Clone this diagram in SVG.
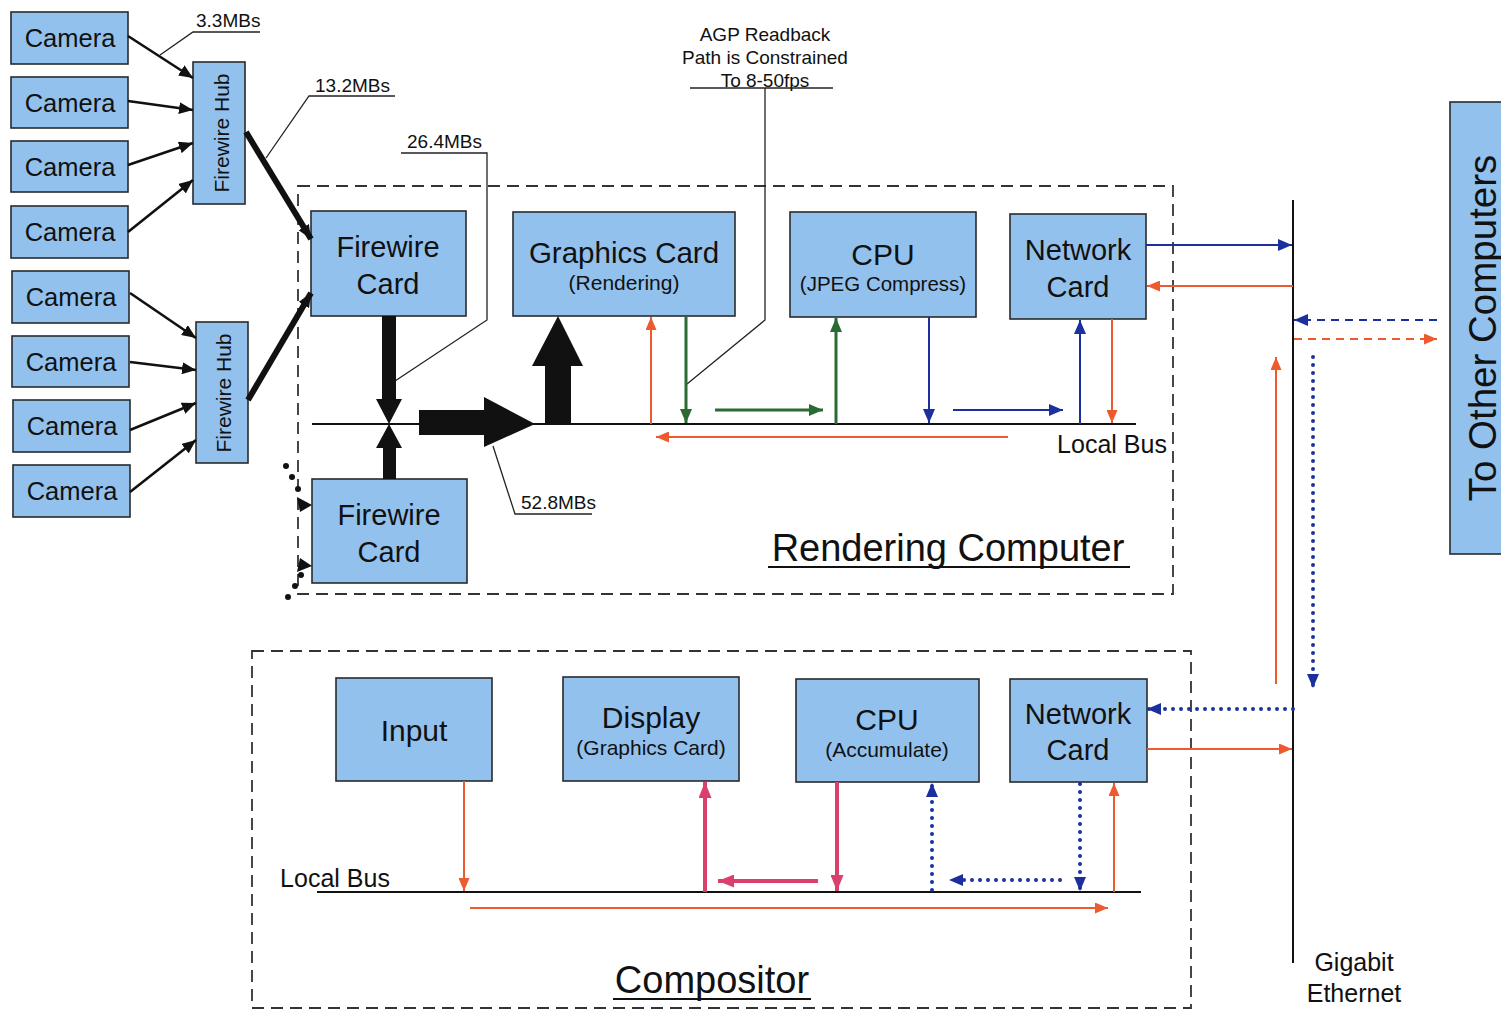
<svg xmlns="http://www.w3.org/2000/svg" width="1501" height="1010" viewBox="0 0 1501 1010">
<style>
.box{fill:#93c1ee;stroke:#2a2a2a;stroke-width:1.6}
.t{font-family:"Liberation Sans",Arial,sans-serif;fill:#111;text-anchor:middle}
.lbl{font-family:"Liberation Sans",Arial,sans-serif;fill:#111;font-size:19px}
.dash{fill:none;stroke:#333;stroke-width:1.8;stroke-dasharray:12 7}
.thin{fill:none;stroke:#222;stroke-width:1.3}
.bus{stroke:#111;stroke-width:2.2}
.or{stroke:#ee5a2f;stroke-width:2;fill:none}
.bl{stroke:#1b2f9e;stroke-width:2;fill:none}
.gr{stroke:#2b6b33;stroke-width:3;fill:none}
.rd{stroke:#d9416c;stroke-width:4;fill:none}
.dot{stroke:#1b2f9e;stroke-width:4;stroke-linecap:round;stroke-dasharray:0 8;fill:none}
</style>
<defs>
<marker id="aK" markerUnits="userSpaceOnUse" markerWidth="14" markerHeight="12" viewBox="0 0 14 12" refX="14" refY="6" orient="auto"><path d="M0,0 L14,6 L0,12 z" fill="#111"/></marker>
<marker id="aO" markerUnits="userSpaceOnUse" markerWidth="13" markerHeight="11" viewBox="0 0 13 11" refX="13" refY="5.5" orient="auto"><path d="M0,0 L13,5.5 L0,11 z" fill="#ee5a2f"/></marker>
<marker id="aB" markerUnits="userSpaceOnUse" markerWidth="14" markerHeight="12" viewBox="0 0 14 12" refX="14" refY="6" orient="auto"><path d="M0,0 L14,6 L0,12 z" fill="#1b2f9e"/></marker>
<marker id="aG" markerUnits="userSpaceOnUse" markerWidth="14" markerHeight="12" viewBox="0 0 14 12" refX="14" refY="6" orient="auto"><path d="M0,0 L14,6 L0,12 z" fill="#2b6b33"/></marker>
<marker id="aR" markerUnits="userSpaceOnUse" markerWidth="16" markerHeight="13" viewBox="0 0 16 13" refX="16" refY="6.5" orient="auto"><path d="M0,0 L16,6.5 L0,13 z" fill="#d9416c"/></marker>
</defs>

<!-- containers -->
<g id="rendering-computer">
<rect class="dash" x="298" y="186" width="875" height="408"/>
<text class="t" x="948" y="561" font-size="38">Rendering Computer</text>
<line x1="768" y1="567" x2="1130" y2="567" stroke="#111" stroke-width="2"/>
</g>
<g id="compositor">
<rect class="dash" x="252" y="651" width="939" height="357"/>
<text class="t" x="712" y="993" font-size="38">Compositor</text>
<line x1="613" y1="999" x2="811" y2="999" stroke="#111" stroke-width="2"/>
</g>

<!-- cameras -->
<g id="camera1"><rect class="box" x="11" y="12" width="117" height="52"/><text class="t" x="70" y="47" font-size="25.5">Camera</text></g>
<g id="camera2"><rect class="box" x="11" y="77" width="117" height="51"/><text class="t" x="70" y="112" font-size="25.5">Camera</text></g>
<g id="camera3"><rect class="box" x="11" y="141" width="117" height="51"/><text class="t" x="70" y="176" font-size="25.5">Camera</text></g>
<g id="camera4"><rect class="box" x="11" y="206" width="117" height="52"/><text class="t" x="70" y="241" font-size="25.5">Camera</text></g>
<g id="camera5"><rect class="box" x="12" y="271" width="117" height="52"/><text class="t" x="71" y="306" font-size="25.5">Camera</text></g>
<g id="camera6"><rect class="box" x="12" y="336" width="117" height="51"/><text class="t" x="71" y="371" font-size="25.5">Camera</text></g>
<g id="camera7"><rect class="box" x="13" y="400" width="117" height="52"/><text class="t" x="72" y="435" font-size="25.5">Camera</text></g>
<g id="camera8"><rect class="box" x="13" y="465" width="117" height="52"/><text class="t" x="72" y="500" font-size="25.5">Camera</text></g>

<!-- hubs -->
<g id="hub1"><rect class="box" x="193" y="62" width="52" height="142"/><text class="t" font-size="21" transform="translate(229,133) rotate(-90)">Firewire Hub</text></g>
<g id="hub2"><rect class="box" x="196" y="322" width="52" height="141"/><text class="t" font-size="21" transform="translate(231,393) rotate(-90)">Firewire Hub</text></g>

<!-- rendering nodes -->
<g id="firewire-card1"><rect class="box" x="311" y="211" width="155" height="105"/><text class="t" x="388" y="257" font-size="29">Firewire</text><text class="t" x="388" y="294" font-size="29">Card</text></g>
<g id="firewire-card2"><rect class="box" x="312" y="479" width="155" height="104"/><text class="t" x="389" y="525" font-size="29">Firewire</text><text class="t" x="389" y="562" font-size="29">Card</text></g>
<g id="graphics-card"><rect class="box" x="513" y="212" width="222" height="104"/><text class="t" x="624" y="263" font-size="29.5">Graphics Card</text><text class="t" x="624" y="290" font-size="21">(Rendering)</text></g>
<g id="cpu-jpeg"><rect class="box" x="790" y="212" width="186" height="105"/><text class="t" x="883" y="265" font-size="30">CPU</text><text class="t" x="883" y="291" font-size="20.5">(JPEG Compress)</text></g>
<g id="network-card1"><rect class="box" x="1010" y="214" width="136" height="105"/><text class="t" x="1078" y="260" font-size="29">Network</text><text class="t" x="1078" y="297" font-size="29">Card</text></g>

<!-- compositor nodes -->
<g id="input"><rect class="box" x="336" y="678" width="156" height="103"/><text class="t" x="414" y="741" font-size="30">Input</text></g>
<g id="display"><rect class="box" x="563" y="677" width="176" height="104"/><text class="t" x="651" y="728" font-size="30">Display</text><text class="t" x="651" y="755" font-size="21">(Graphics Card)</text></g>
<g id="cpu-accum"><rect class="box" x="796" y="679" width="183" height="103"/><text class="t" x="887" y="730" font-size="30">CPU</text><text class="t" x="887" y="757" font-size="21">(Accumulate)</text></g>
<g id="network-card2"><rect class="box" x="1010" y="679" width="137" height="103"/><text class="t" x="1078" y="724" font-size="29">Network</text><text class="t" x="1078" y="760" font-size="29">Card</text></g>

<!-- to other computers -->
<g id="other-computers"><rect class="box" x="1450" y="102" width="60" height="452"/><text class="t" font-size="38.5" transform="translate(1496,328) rotate(-90)">To Other Computers</text></g>

<!-- labels -->
<g id="labels">
<text class="lbl" x="196" y="27">3.3MBs</text>
<text class="lbl" x="315" y="92">13.2MBs</text>
<text class="lbl" x="407" y="148">26.4MBs</text>
<text class="lbl" x="521" y="509">52.8MBs</text>
<text class="lbl" x="765" y="41" text-anchor="middle">AGP Readback</text>
<text class="lbl" x="765" y="64" text-anchor="middle">Path is Constrained</text>
<text class="lbl" x="765" y="87" text-anchor="middle">To 8-50fps</text>
<text class="t" x="1112" y="453" font-size="25">Local Bus</text>
<text class="t" x="335" y="887" font-size="25">Local Bus</text>
<text class="t" x="1354" y="971" font-size="25">Gigabit</text>
<text class="t" x="1354" y="1002" font-size="25">Ethernet</text>
</g>

<!-- connectors -->
<g id="connectors">
<!-- leaders -->
<polyline class="thin" points="260,32 193,32 160,55"/>
<polyline class="thin" points="395,96 309,96 266,158"/>
<polyline class="thin" points="401,153 487,153 487,320 395,381"/>
<polyline class="thin" points="493,446 515,514 592,514"/>
<line class="thin" x1="690" y1="88" x2="833" y2="88"/>
<polyline class="thin" points="765,88 765,320 687,384"/>

<!-- camera to hub -->
<g stroke="#111" stroke-width="2.6" fill="none" marker-end="url(#aK)">
<line x1="128" y1="36" x2="193" y2="78"/>
<line x1="128" y1="101" x2="193" y2="110"/>
<line x1="128" y1="165" x2="193" y2="143"/>
<line x1="128" y1="232" x2="193" y2="180"/>
<line x1="130" y1="293" x2="196" y2="338"/>
<line x1="130" y1="362" x2="196" y2="370"/>
<line x1="130" y1="430" x2="196" y2="403"/>
<line x1="130" y1="492" x2="196" y2="440"/>
</g>
<!-- hub to firewire card -->
<g stroke="#111" stroke-width="6" fill="none" marker-end="url(#aK)">
<line x1="246" y1="132" x2="311" y2="239"/>
<line x1="248" y1="400" x2="311" y2="293"/>
</g>
<!-- more hubs (ellipsis) -->
<g fill="#111">
<circle cx="286" cy="466" r="3"/><circle cx="292" cy="477" r="3"/><circle cx="298" cy="489" r="3"/>
<circle cx="301" cy="575" r="3"/><circle cx="295" cy="586" r="3"/><circle cx="288" cy="597" r="3"/>
<path d="M297,497 L312,505 L300,512 z"/>
<path d="M300,558 L312,566 L297,572 z"/>
</g>

<!-- local bus rendering -->
<line class="bus" x1="312" y1="424" x2="1136" y2="424"/>
<!-- thick data arrows -->
<g fill="#111">
<polygon points="382,316 396,316 396,399 402,399 389,424 376,399 382,399"/>
<polygon points="383,479 396,479 396,448 402,448 389,424 376,448 383,448"/>
<polygon points="419,410 484,410 484,397 535,424 484,447 484,435 419,435"/>
<polygon points="545,424 571,424 571,366 583,366 558,316 532,366 545,366"/>
</g>

<!-- rendering colored arrows -->
<line class="or" x1="651" y1="424" x2="651" y2="317" marker-end="url(#aO)"/>
<line class="gr" x1="686" y1="317" x2="686" y2="423" marker-end="url(#aG)"/>
<line class="gr" x1="715" y1="410" x2="823" y2="410" marker-end="url(#aG)"/>
<line class="gr" x1="836" y1="424" x2="836" y2="318" marker-end="url(#aG)"/>
<line class="bl" x1="929" y1="317" x2="929" y2="423" marker-end="url(#aB)"/>
<line class="bl" x1="953" y1="410" x2="1063" y2="410" stroke-width="2.6" marker-end="url(#aB)"/>
<line class="bl" x1="1080" y1="424" x2="1080" y2="320" marker-end="url(#aB)"/>
<line class="or" x1="1112" y1="319" x2="1112" y2="423" marker-end="url(#aO)"/>
<line class="or" x1="1008" y1="437" x2="656" y2="437" marker-end="url(#aO)"/>

<!-- gigabit ethernet -->
<line x1="1293" y1="200" x2="1293" y2="963" stroke="#111" stroke-width="2"/>
<line class="bl" x1="1146" y1="245" x2="1292" y2="245" marker-end="url(#aB)"/>
<line class="or" x1="1293" y1="286" x2="1147" y2="286" marker-end="url(#aO)"/>
<line class="bl" x1="1437" y1="320" x2="1294" y2="320" stroke-width="2.4" stroke-dasharray="8 6" marker-end="url(#aB)"/>
<line class="or" x1="1294" y1="339" x2="1437" y2="339" stroke-dasharray="8 6" marker-end="url(#aO)"/>
<line class="or" x1="1276" y1="684" x2="1276" y2="357" marker-end="url(#aO)"/>
<line class="dot" x1="1313" y1="357" x2="1313" y2="688" marker-end="url(#aB)"/>
<line class="dot" x1="1293" y1="709" x2="1147" y2="709" marker-end="url(#aB)"/>
<line class="or" x1="1147" y1="749" x2="1292" y2="749" marker-end="url(#aO)"/>

<!-- compositor bus and arrows -->
<line class="bus" x1="317" y1="892" x2="1141" y2="892"/>
<line class="or" x1="464" y1="781" x2="464" y2="891" marker-end="url(#aO)"/>
<line class="rd" x1="705" y1="892" x2="705" y2="782" marker-end="url(#aR)"/>
<line class="rd" x1="818" y1="881" x2="718" y2="881" marker-end="url(#aR)"/>
<line class="rd" x1="837" y1="782" x2="837" y2="891" marker-end="url(#aR)"/>
<line class="dot" x1="932" y1="890" x2="932" y2="783" marker-end="url(#aB)"/>
<line class="dot" x1="1060" y1="880" x2="949" y2="880" marker-end="url(#aB)"/>
<line class="dot" x1="1080" y1="784" x2="1080" y2="891" marker-end="url(#aB)"/>
<line class="or" x1="1114" y1="892" x2="1114" y2="783" marker-end="url(#aO)"/>
<line class="or" x1="470" y1="908" x2="1108" y2="908" marker-end="url(#aO)"/>
</g>
</svg>
